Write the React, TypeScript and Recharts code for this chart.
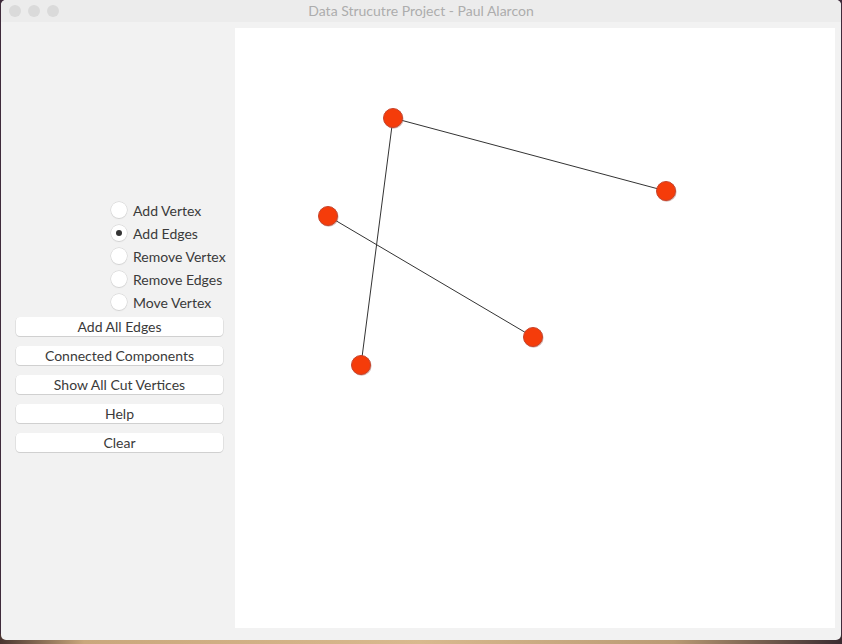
import React from 'react';
import { ScatterChart, Scatter, XAxis, YAxis } from 'recharts';

// vertex positions on the 600x600 canvas (origin top-left)
const vertexX = [158, 431, 93, 298, 126];
const vertexY = [90, 163, 188, 309, 337];

// edges as pairs of vertex indices
const edgeFrom = [0, 0, 2];
const edgeTo = [1, 4, 3];

const modes = ['Add Vertex', 'Add Edges', 'Remove Vertex', 'Remove Edges', 'Move Vertex'];
const selectedMode = 'Add Edges';
const actions = ['Add All Edges', 'Connected Components', 'Show All Cut Vertices', 'Help', 'Clear'];

const vertices = vertexX.map((x, i) => ({ x, y: vertexY[i] }));
const edges = edgeFrom.map((f, i) => [vertices[f], vertices[edgeTo[i]]]);

const uiFont = 'Lato, "Noto Sans", sans-serif';

const Vertex = (props: any) => {
  const { cx, cy } = props;
  return (
    <g>
      <circle cx={cx + 0.6} cy={cy + 0.8} r={10} fill="#8a3a2a" opacity={0.35} />
      <circle cx={cx} cy={cy} r={9.5} fill="#f53c0a" stroke="#c8432a" strokeWidth={1} />
    </g>
  );
};

export default function App() {
  return (
    <div style={{ position: 'absolute', left: 0, top: 0, width: 842, height: 644, background: '#3f2b3b', overflow: 'hidden' }}>
      <div style={{ position: 'absolute', left: 0, top: 634, width: 842, height: 10, background: 'linear-gradient(90deg, #4a3530 0%, #c9a77c 10%, #d8b98e 50%, #b99a74 80%, #3a2a30 100%)' }} />
      <div style={{ position: 'absolute', left: 1, top: 0, width: 840, height: 640, background: '#f2f2f2', borderRadius: 5, overflow: 'hidden', fontFamily: uiFont }}>
        {/* title bar */}
        <div style={{ position: 'absolute', left: 0, top: 0, width: 840, height: 22, background: '#ececec' }}>
          {[14, 33, 52].map((cx) => (
            <div key={cx} style={{ position: 'absolute', left: cx - 6, top: 5, width: 12, height: 12, borderRadius: 6, background: '#dadada' }} />
          ))}
          <div style={{ position: 'absolute', left: 0, top: 2, width: 840, textAlign: 'center', fontSize: 14, color: '#adadad' }}>
            Data Strucutre Project - Paul Alarcon
          </div>
        </div>

        {/* mode radio buttons */}
        {modes.map((m, i) => (
          <div key={m} style={{ position: 'absolute', left: 110, top: 201 + i * 23, height: 18, display: 'flex', alignItems: 'center' }}>
            <div style={{ width: 16, height: 16, borderRadius: 8, background: '#fff', boxShadow: '0 0 0 0.5px #cfcfcf, 0 1px 1px #d8d8d8', position: 'relative', flexShrink: 0 }}>
              {m === selectedMode && (
                <div style={{ position: 'absolute', left: 5, top: 5, width: 6, height: 6, borderRadius: 3, background: '#333' }} />
              )}
            </div>
            <span style={{ marginLeft: 6, fontSize: 14, color: '#3a3a3a', whiteSpace: 'nowrap' }}>{m}</span>
          </div>
        ))}

        {/* action buttons */}
        {actions.map((a, i) => (
          <div key={a} style={{ position: 'absolute', left: 15, top: 317 + i * 29, width: 207, height: 19, borderRadius: 4, background: '#fff', boxShadow: '0 0.5px 0 0.5px #d0d0d0', textAlign: 'center', fontSize: 14, lineHeight: '19px', color: '#3a3a3a' }}>
            {a}
          </div>
        ))}

        {/* graph canvas */}
        <div style={{ position: 'absolute', left: 234, top: 28, width: 600, height: 600, background: '#fff' }}>
          <ScatterChart width={600} height={600} margin={{ top: 0, right: 0, bottom: 0, left: 0 }}>
            <XAxis type="number" dataKey="x" domain={[0, 600]} hide />
            <YAxis type="number" dataKey="y" domain={[0, 600]} reversed hide />
            {edges.map((e, i) => (
              <Scatter
                key={i}
                data={e}
                line={{ stroke: '#333', strokeWidth: 1 }}
                shape={() => <g />}
                isAnimationActive={false}
              />
            ))}
            <Scatter data={vertices} shape={Vertex} isAnimationActive={false} />
          </ScatterChart>
        </div>
      </div>
    </div>
  );
}
